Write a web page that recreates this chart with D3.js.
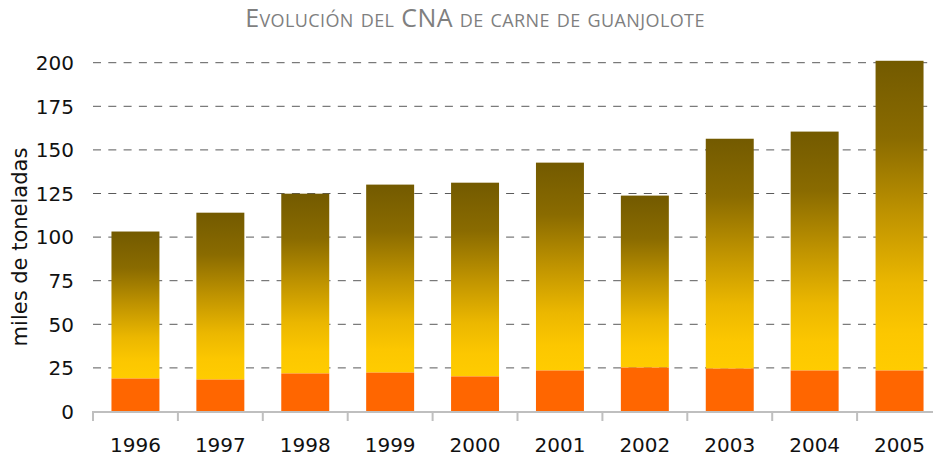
<!DOCTYPE html>
<html><head><meta charset="utf-8">
<script src="https://cdn.jsdelivr.net/npm/d3@7"></script>
<style>
body{margin:0;background:#fff;}
svg{display:block;}
</style></head>
<body>
<svg id="chart" width="933" height="458"></svg>
<script>
const years = ["1996","1997","1998","1999","2000","2001","2002","2003","2004","2005"];
const totals = [103.2, 114.0, 124.9, 130.1, 131.2, 142.7, 123.8, 156.4, 160.5, 201.1];
const bottomSeries = [18.9, 18.3, 21.8, 22.3, 20.1, 23.5, 25.2, 24.6, 23.5, 23.5];
const yTicks = [0, 25, 50, 75, 100, 125, 150, 175, 200];
const title = "Evolución del CNA de carne de guanjolote";
const yTitle = "miles de toneladas";

const svg = d3.select("#chart");
const x = d3.scaleBand().domain(years).range([93, 942]).paddingInner(0.435).paddingOuter(0.2175);
const y = d3.scaleLinear().domain([0, 200]).range([411.5, 62.7]);

const defs = svg.append("defs");
const grad = defs.append("linearGradient").attr("id","g").attr("x1",0).attr("y1",0).attr("x2",0).attr("y2",1);
[[0,"#735a00"],[0.25,"#8a6b00"],[0.5,"#c09400"],[0.72,"#ebb700"],[0.88,"#fcc700"],[1,"#ffcc00"]]
  .forEach(([o,c]) => grad.append("stop").attr("offset",o).attr("stop-color",c));

// title
svg.append("text").attr("x", 475).attr("y", 27).attr("text-anchor","middle")
  .style("font-family","'Open Sans'").style("font-size","25px").style("font-variant","small-caps")
  .style("letter-spacing","0.4px")
  .attr("fill","#7f7f7f").text(title);

// gridlines
svg.append("g").selectAll("line").data(yTicks.filter(d => d > 0)).join("line")
  .attr("x1", 93).attr("x2", 942).attr("y1", d => y(d)).attr("y2", d => y(d))
  .attr("stroke","#5a5a5a").attr("stroke-width",1).attr("stroke-dasharray","8,7.3");

// y tick labels
svg.append("g").selectAll("text").data(yTicks).join("text")
  .attr("x", 74).attr("y", d => y(d)).attr("dy","0.36em").attr("text-anchor","end")
  .style("font-family","'DejaVu Sans'").style("font-size","20px").attr("fill","#111")
  .text(d => d);

// y title
svg.append("text").attr("transform","translate(27,247) rotate(-90)").attr("text-anchor","middle")
  .style("font-family","'DejaVu Sans'").style("font-size","21px").attr("fill","#111").text(yTitle);

// bars
const data = years.map((yr,i) => ({yr, total: totals[i], bottom: bottomSeries[i]}));
svg.append("g").selectAll("rect").data(data).join("rect")
  .attr("x", d => x(d.yr)).attr("width", x.bandwidth())
  .attr("y", d => y(d.total)).attr("height", d => y(d.bottom) - y(d.total))
  .attr("fill","url(#g)");
svg.append("g").selectAll("rect").data(data).join("rect")
  .attr("x", d => x(d.yr)).attr("width", x.bandwidth())
  .attr("y", d => y(d.bottom)).attr("height", d => y(0) - y(d.bottom))
  .attr("fill","#ff6600");

// x axis
const axisY = 412;
svg.append("line").attr("x1",92).attr("x2",942).attr("y1",axisY).attr("y2",axisY)
  .attr("stroke","#bfbfbf").attr("stroke-width",2);
const bounds = years.map(yr => x(yr) - x.step()*x.paddingInner()/2);
svg.append("g").selectAll("line").data(bounds).join("line")
  .attr("x1", d => d).attr("x2", d => d).attr("y1", axisY).attr("y2", axisY + 9)
  .attr("stroke","#bfbfbf").attr("stroke-width",2);
svg.append("g").selectAll("text").data(years).join("text")
  .attr("x", d => x(d) + x.bandwidth()/2).attr("y", 452).attr("text-anchor","middle")
  .style("font-family","'DejaVu Sans'").style("font-size","20px").attr("fill","#111")
  .text(d => d);
</script>
</body></html>
